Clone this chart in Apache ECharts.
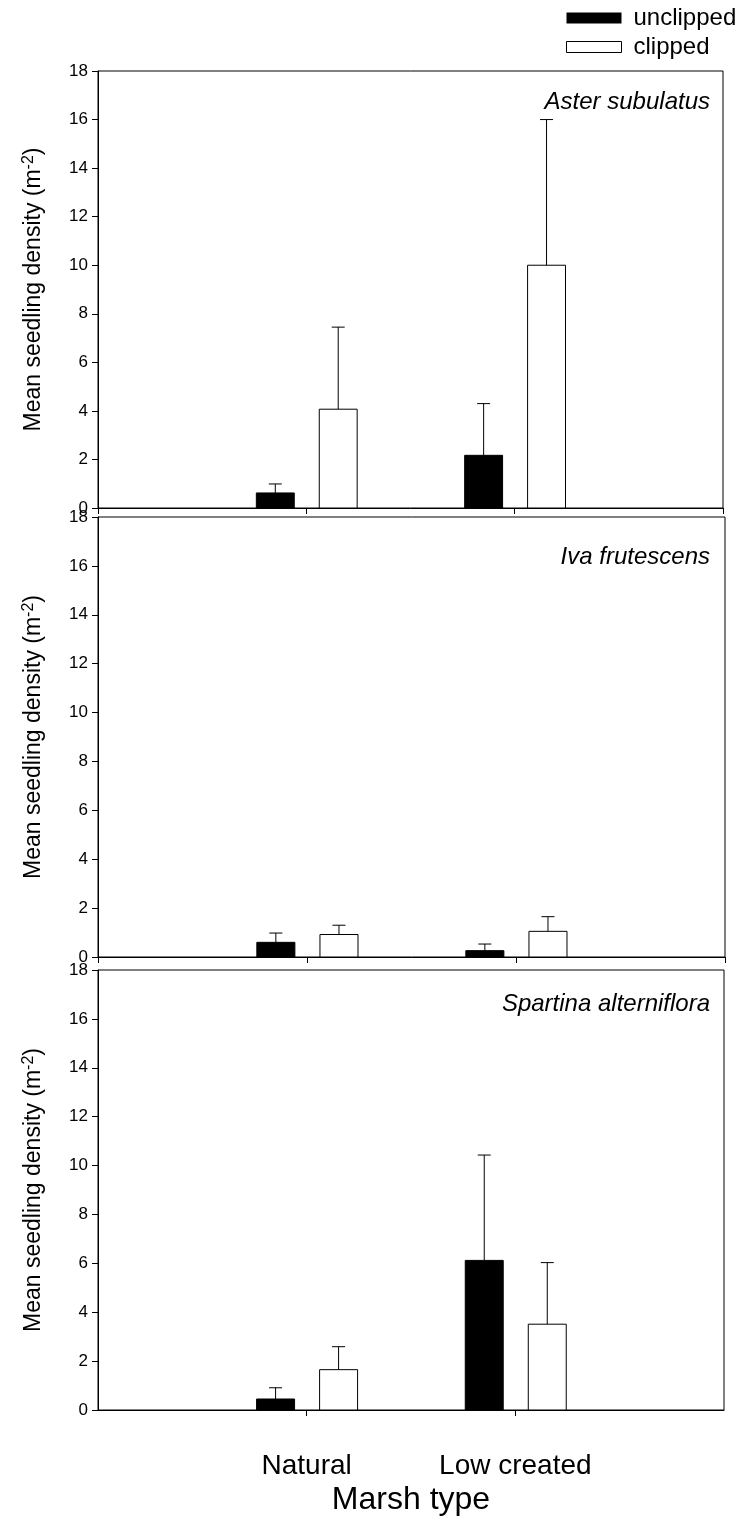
<!DOCTYPE html>
<html>
<head>
<meta charset="utf-8">
<script src="https://cdn.jsdelivr.net/npm/echarts@6/dist/echarts.min.js"></script>
<style>
  html, body { margin: 0; padding: 0; background: #fff; }
  #chart { width: 742px; height: 1519px; }
</style>
</head>
<body>
<div id="chart"></div>
<script>
// categories on the x axis
const categories = ["Natural", "Low created"];
const panelTitles = ["Aster subulatus", "Iva frutescens", "Spartina alterniflora"];
const yTicks = [0, 2, 4, 6, 8, 10, 12, 14, 16, 18];

// means and (upper) standard errors, one pair per panel
const asterUnclipped = [0.62, 2.17];
const asterUnclippedErr = [0.37, 2.13];
const asterClipped = [4.07, 10.0];
const asterClippedErr = [3.38, 6.0];

const ivaUnclipped = [0.6, 0.26];
const ivaUnclippedErr = [0.38, 0.27];
const ivaClipped = [0.92, 1.05];
const ivaClippedErr = [0.38, 0.6];

const spartinaUnclipped = [0.45, 6.12];
const spartinaUnclippedErr = [0.46, 4.31];
const spartinaClipped = [1.65, 3.51];
const spartinaClippedErr = [0.94, 2.52];

const panels = [
  { unclipped: asterUnclipped, unclippedErr: asterUnclippedErr, clipped: asterClipped, clippedErr: asterClippedErr },
  { unclipped: ivaUnclipped, unclippedErr: ivaUnclippedErr, clipped: ivaClipped, clippedErr: ivaClippedErr },
  { unclipped: spartinaUnclipped, unclippedErr: spartinaUnclippedErr, clipped: spartinaClipped, clippedErr: spartinaClippedErr },
];

const FONT = "Liberation Sans, Arial, sans-serif";

// grid boxes for the three stacked panels
const grids = [
  { left: 98, top: 71, width: 625, height: 437 },
  { left: 98, top: 517, width: 627, height: 440 },
  { left: 98, top: 970, width: 626, height: 440 },
];

// bar drawn with an error bar on top, offset is a fraction of one category unit
function makeRenderItem(offsetFrac, fill) {
  return function (params, api) {
    let cat = api.value(0);
    let val = api.value(1);
    let err = api.value(2);
    let unit = api.size([1, 0])[0];
    let base = api.coord([cat, 0]);
    let top = api.coord([cat, val]);
    let errTop = api.coord([cat, val + err]);
    let cx = base[0] + offsetFrac * unit;
    let w = 0.182 * unit;
    let cap = 13;
    return {
      type: "group",
      children: [
        {
          type: "line",
          shape: { x1: cx, y1: top[1], x2: cx, y2: errTop[1] },
          style: { stroke: "#000", lineWidth: 1 },
        },
        {
          type: "line",
          shape: { x1: cx - cap / 2, y1: errTop[1], x2: cx + cap / 2, y2: errTop[1] },
          style: { stroke: "#000", lineWidth: 1 },
        },
        {
          type: "rect",
          shape: { x: cx - w / 2, y: top[1], width: w, height: base[1] - top[1] },
          style: { fill: fill, stroke: "#000", lineWidth: 1 },
        },
      ],
    };
  };
}

function drawChart() {
  var dom = document.getElementById("chart");
  var myChart = echarts.init(dom, null, { renderer: "canvas" });

  let gridOpts = [];
  let xAxes = [];
  let yAxes = [];
  let series = [];
  let titles = [];
  let titleTops = [90, 545, 992];

  for (let i = 0; i < 3; i++) {
    gridOpts.push(Object.assign({ show: true, borderColor: "#000", borderWidth: 1, backgroundColor: "transparent" }, grids[i]));

    let tick = { show: true, length: 6, lineStyle: { color: "#000" } };
    // bottom panel only has ticks under the two categories
    if (i === 2) {
      tick.customValues = [0, 1];
    }

    xAxes.push({
      type: "value",
      gridIndex: i,
      min: -1,
      max: 2,
      interval: 1,
      splitLine: { show: false },
      axisLine: { onZero: false, lineStyle: { color: "#000", width: 1 } },
      axisTick: tick,
      axisLabel: {
        show: i === 2,
        margin: 42,
        fontSize: 28,
        fontFamily: FONT,
        color: "#000",
        formatter: function (v) {
          return categories[v] !== undefined ? categories[v] : "";
        },
      },
      name: i === 2 ? "Marsh type" : "",
      nameLocation: "middle",
      nameGap: 74,
      nameTextStyle: { fontSize: 32, fontFamily: FONT, color: "#000" },
    });

    yAxes.push({
      type: "value",
      gridIndex: i,
      min: yTicks[0],
      max: yTicks[yTicks.length - 1],
      interval: 2,
      splitLine: { show: false },
      axisLine: { onZero: false, lineStyle: { color: "#000", width: 1 } },
      axisTick: { show: true, length: 6, lineStyle: { color: "#000" } },
      axisLabel: { margin: 10, fontSize: 17, fontFamily: FONT, color: "#000" },
      name: "{a|Mean seedling density (m}{s|-2}{a|)}",
      nameLocation: "middle",
      nameGap: 51,
      nameTextStyle: {
        rich: {
          a: { fontSize: 23, fontFamily: FONT, color: "#000" },
          s: { fontSize: 16, fontFamily: FONT, color: "#000", verticalAlign: "top", padding: [0, 0, 10, 0] },
        },
      },
    });

    let p = panels[i];
    let unData = [];
    let clData = [];
    for (let j = 0; j < categories.length; j++) {
      unData.push([j, p.unclipped[j], p.unclippedErr[j]]);
      clData.push([j, p.clipped[j], p.clippedErr[j]]);
    }

    series.push({
      name: "unclipped",
      type: "custom",
      xAxisIndex: i,
      yAxisIndex: i,
      itemStyle: { color: "#000" },
      renderItem: makeRenderItem(-0.149, "#000"),
      data: unData,
    });
    series.push({
      name: "clipped",
      type: "custom",
      xAxisIndex: i,
      yAxisIndex: i,
      itemStyle: { color: "#fff", borderColor: "#000", borderWidth: 1 },
      renderItem: makeRenderItem(0.153, "#fff"),
      data: clData,
    });

    titles.push({
      text: panelTitles[i],
      right: 32,
      top: titleTops[i],
      padding: 0,
      textStyle: { fontSize: 24, fontStyle: "italic", fontWeight: "normal", fontFamily: FONT, color: "#000" },
    });
  }

  var option = {
    animation: false,
    backgroundColor: "#fff",
    title: titles,
    legend: {
      orient: "vertical",
      left: 566,
      top: 6,
      padding: 0,
      itemWidth: 55,
      itemHeight: 11,
      itemGap: 5,
      icon: "rect",
      textStyle: { fontSize: 24, fontFamily: FONT, color: "#000", padding: [0, 0, 0, 7] },
      data: [
        { name: "unclipped", itemStyle: { color: "#000" } },
        { name: "clipped", itemStyle: { color: "#fff", borderColor: "#000", borderWidth: 1 } },
      ],
    },
    grid: gridOpts,
    xAxis: xAxes,
    yAxis: yAxes,
    series: series,
  };

  myChart.setOption(option);
  window.addEventListener("resize", myChart.resize);
}

drawChart();
</script>
</body>
</html>
